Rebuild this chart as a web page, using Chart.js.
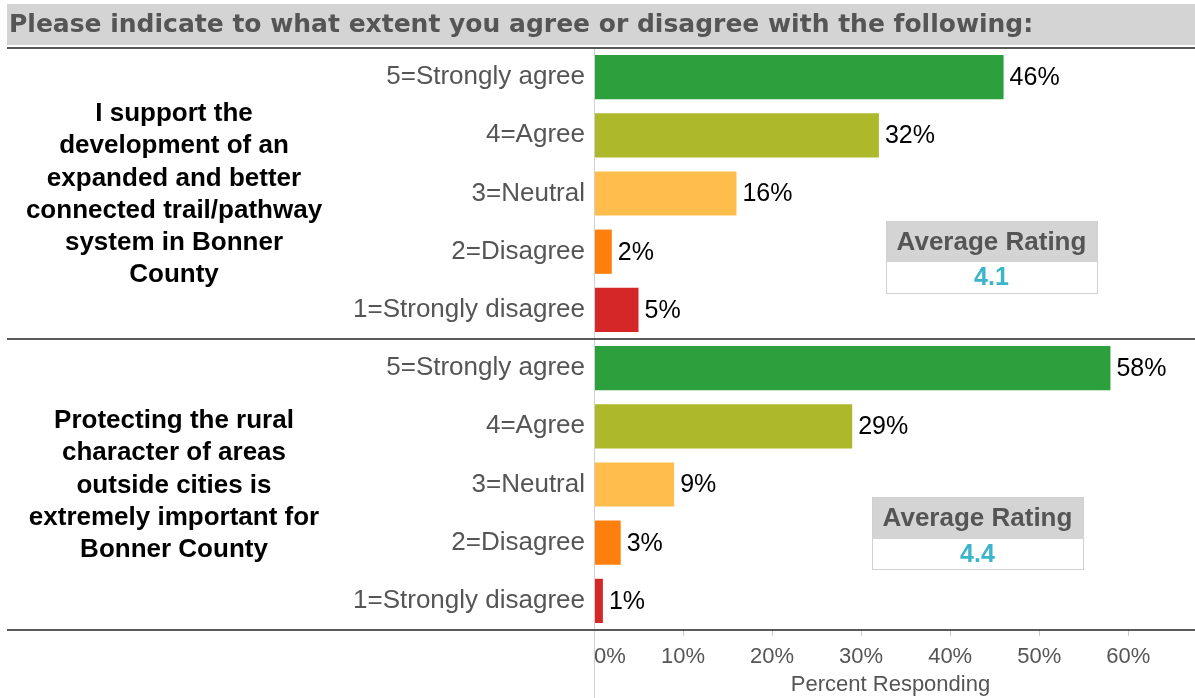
<!DOCTYPE html>
<html>
<head>
<meta charset="utf-8">
<script src="https://cdn.jsdelivr.net/npm/chart.js@4.4.0/dist/chart.umd.min.js"></script>
<style>
  html, body { margin: 0; padding: 0; background: #fff; }
</style>
</head>
<body>
<canvas id="chart" width="1195" height="698"></canvas>
<script>
const titleText = 'Please indicate to what extent you agree or disagree with the following:';
const ratingLabels = ['5=Strongly agree', '4=Agree', '3=Neutral', '2=Disagree', '1=Strongly disagree'];
const ratingColors = ['#2ca03c', '#adb92b', '#ffbd4b', '#ff7f0e', '#d62728'];

// percent responding, question 1 (trails) and question 2 (rural character)
const trailValues = [46, 32, 16, 2, 5];
const ruralValues = [58, 29, 9, 3, 1];

const questionLines = [
    ['I support the', 'development of an', 'expanded and better', 'connected trail/pathway', 'system in Bonner', 'County'],
    ['Protecting the rural', 'character of areas', 'outside cities is', 'extremely important for', 'Bonner County']
];
const averageRatings = ['4.1', '4.4'];

const xTicks = [0, 10, 20, 30, 40, 50, 60];
const xMax = 66.6;

const allValues = [...trailValues, ...ruralValues];

// boxes with the average rating, one per question
const ratingBoxes = [
    { left: 886, top: 221, width: 211, head: 41, body: 31 },
    { left: 872, top: 497, width: 211, head: 42, body: 30 }
];

const surveyDecor = {
    id: 'surveyDecor',
    beforeDraw(chart) {
        const ctx = chart.ctx;
        ctx.save();
        // title bar
        ctx.fillStyle = '#d4d4d4';
        ctx.fillRect(7, 4, chart.width - 7, 41);
        ctx.fillStyle = '#555555';
        ctx.font = 'bold 25px "DejaVu Sans"';
        ctx.textBaseline = 'middle';
        ctx.textAlign = 'left';
        ctx.fillText(titleText, 9, 25);
        ctx.restore();
    },
    afterDraw(chart) {
        const { ctx, chartArea, scales: { x, y } } = chart;
        ctx.save();

        // axis line at zero
        ctx.strokeStyle = '#d0d0d0';
        ctx.lineWidth = 1;
        ctx.beginPath();
        ctx.moveTo(x.getPixelForValue(0) + 0.5, chartArea.top);
        ctx.lineTo(x.getPixelForValue(0) + 0.5, chart.height);
        ctx.stroke();

        // panel rules
        const mid = (y.getPixelForValue(4) + y.getPixelForValue(5)) / 2;
        ctx.strokeStyle = '#222';
        ctx.lineWidth = 1.5;
        [chartArea.top, mid, chartArea.bottom].forEach(py => {
            ctx.beginPath();
            ctx.moveTo(7, Math.round(py));
            ctx.lineTo(chart.width, Math.round(py));
            ctx.stroke();
        });

        // value labels at the end of each bar
        const meta = chart.getDatasetMeta(0);
        ctx.fillStyle = '#000';
        ctx.font = '25px "Liberation Sans"';
        ctx.textAlign = 'left';
        ctx.textBaseline = 'middle';
        meta.data.forEach((bar, i) => {
            ctx.fillText(allValues[i] + '%', bar.x + 6, bar.y + 1);
        });

        // question text, centred on each panel
        const panelCenters = [(chartArea.top + mid) / 2, (mid + chartArea.bottom) / 2];
        ctx.font = 'bold 26px "Liberation Sans"';
        ctx.textAlign = 'center';
        const lineH = 32.3;
        questionLines.forEach((lines, q) => {
            const start = panelCenters[q] - (lines.length - 1) * lineH / 2;
            lines.forEach((line, j) => ctx.fillText(line, 174, start + j * lineH + 1));
        });

        // average rating boxes
        ratingBoxes.forEach((b, q) => {
            ctx.fillStyle = '#d4d4d4';
            ctx.fillRect(b.left, b.top, b.width, b.head);
            ctx.fillStyle = '#fff';
            ctx.fillRect(b.left, b.top + b.head, b.width, b.body);
            ctx.strokeStyle = '#d0d0d0';
            ctx.lineWidth = 1;
            ctx.strokeRect(b.left + 0.5, b.top + 0.5, b.width, b.head + b.body);
            ctx.font = 'bold 26px "Liberation Sans"';
            ctx.fillStyle = '#555555';
            ctx.fillText('Average Rating', b.left + b.width / 2, b.top + b.head / 2 + 1);
            ctx.fillStyle = '#3cb4cc';
            ctx.font = 'bold 25px "Liberation Sans"';
            ctx.fillText(averageRatings[q], b.left + b.width / 2, b.top + b.head + b.body / 2 + 1);
        });

        ctx.restore();
    }
};

new Chart(document.getElementById('chart'), {
    type: 'bar',
    data: {
        labels: [...ratingLabels, ...ratingLabels],
        datasets: [{
            data: allValues,
            backgroundColor: [...ratingColors, ...ratingColors],
            categoryPercentage: 1,
            barPercentage: 0.76
        }]
    },
    options: {
        indexAxis: 'y',
        responsive: false,
        animation: false,
        layout: {
            padding: { top: 48, left: 0, right: 0, bottom: 0 }
        },
        plugins: {
            legend: { display: false },
            tooltip: { enabled: false }
        },
        scales: {
            y: {
                grid: { display: false },
                border: { display: false },
                ticks: {
                    color: '#555555',
                    padding: 1,
                    font: { family: 'Liberation Sans', size: 26 }
                },
                afterFit: function (scale) {
                    scale.width = 594;
                }
            },
            x: {
                min: 0,
                max: xMax,
                afterBuildTicks: function (scale) {
                    scale.ticks = [...xTicks.map(v => ({ value: v })), { value: xMax }];
                },
                grid: {
                    drawOnChartArea: false,
                    drawTicks: true,
                    tickLength: 6,
                    tickColor: function (c) {
                        return c.tick && c.tick.value > 60 ? 'rgba(0,0,0,0)' : '#cccccc';
                    }
                },
                border: { display: false },
                ticks: {
                    align: 'inner',
                    color: '#555555',
                    padding: 8,
                    maxRotation: 0,
                    font: { family: 'Liberation Sans', size: 22 },
                    callback: function (value) {
                        return xTicks.includes(value) ? value + '%' : '';
                    }
                },
                title: {
                    display: true,
                    text: 'Percent Responding',
                    color: '#555555',
                    font: { family: 'Liberation Sans', size: 22 },
                    padding: { top: 2, bottom: 0 }
                },
                afterFit: function (scale) {
                    scale.height = 68;
                }
            }
        }
    },
    plugins: [surveyDecor]
});
</script>
</body>
</html>
